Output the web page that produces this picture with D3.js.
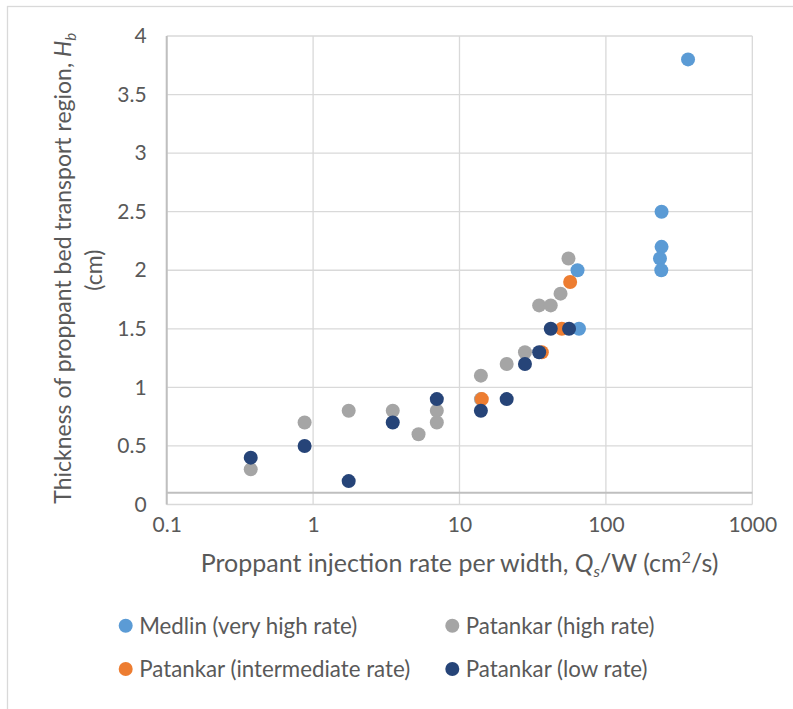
<!DOCTYPE html>
<html>
<head>
<meta charset="utf-8">
<script src="https://d3js.org/d3.v7.min.js"></script>
<style>
  body { margin: 0; background: #fff; }
  svg { display: block; font-family: Lato, "Open Sans", sans-serif; }
</style>
</head>
<body>
<svg id="chart" width="793" height="709"></svg>
<script>
// values
const seriesNames = ["Medlin (very high rate)", "Patankar (high rate)", "Patankar (intermediate rate)", "Patankar (low rate)"];
const seriesColors = ["#5B9BD5", "#A5A5A5", "#ED7D31", "#264478"];

const medlinX = [364, 240, 240, 234, 239, 64, 65.5];
const medlinY = [3.8, 2.5, 2.2, 2.1, 2.0, 2.0, 1.5];

const highX = [55.5, 49, 35, 42, 28, 21, 14, 14, 0.375, 0.875, 1.75, 3.5, 5.25, 7, 7];
const highY = [2.1, 1.8, 1.7, 1.7, 1.3, 1.2, 1.1, 0.9, 0.3, 0.7, 0.8, 0.8, 0.6, 0.8, 0.7];

const interX = [57, 50, 36.5, 14.2];
const interY = [1.9, 1.5, 1.3, 0.9];

const lowX = [42, 56, 35, 28, 21, 14, 0.375, 0.875, 1.75, 3.5, 7];
const lowY = [1.5, 1.5, 1.3, 1.2, 0.9, 0.8, 0.4, 0.5, 0.2, 0.7, 0.9];

const xTicks = [0.1, 1, 10, 100, 1000];
const xTickLabels = ["0.1", "1", "10", "100", "1000"];
const yTicks = [0, 0.5, 1, 1.5, 2, 2.5, 3, 3.5, 4];
const yTickLabels = ["0", "0.5", "1", "1.5", "2", "2.5", "3", "3.5", "4"];
const xAxisCrossesAt = 0.1;

const series = [
  {xs: medlinX, ys: medlinY},
  {xs: highX, ys: highY},
  {xs: interX, ys: interY},
  {xs: lowX, ys: lowY}
].map((s, i) => ({
  name: seriesNames[i],
  color: seriesColors[i],
  points: s.xs.map((x, j) => ({x: x, y: s.ys[j]}))
}));

let chart = d3.select("#chart");
const textColor = "#595959";
const tickSize = 21, legendSize = 22.3, xTitleSize = 25, yTitleSize = 23;

// outer chart border
chart.append("rect")
  .attr("x", 7.5).attr("y", 6.5)
  .attr("width", 820).attr("height", 740)
  .attr("fill", "none")
  .attr("stroke", "#D9D9D9")
  .attr("stroke-width", 1.3);

const xScale = d3.scaleLog().domain([0.1, 1000]).range([166.7, 752.3]);
const yScale = d3.scaleLinear().domain([0, 4]).range([504.5, 36]);

// gridlines
chart.append("g").selectAll("line")
  .data(yTicks).enter()
  .append("line")
    .attr("x1", xScale(0.1)).attr("x2", xScale(1000))
    .attr("y1", d => yScale(d)).attr("y2", d => yScale(d))
    .attr("stroke", "#D9D9D9").attr("stroke-width", 1.3);

chart.append("g").selectAll("line")
  .data(xTicks).enter()
  .append("line")
    .attr("x1", d => xScale(d)).attr("x2", d => xScale(d))
    .attr("y1", yScale(0)).attr("y2", yScale(4))
    .attr("stroke", "#D9D9D9").attr("stroke-width", 1.3);

// axis lines
chart.append("line")
  .attr("x1", xScale(0.1)).attr("x2", xScale(1000))
  .attr("y1", yScale(xAxisCrossesAt)).attr("y2", yScale(xAxisCrossesAt))
  .attr("stroke", "#BFBFBF").attr("stroke-width", 2);
chart.append("line")
  .attr("x1", xScale(0.1)).attr("x2", xScale(0.1))
  .attr("y1", yScale(0)).attr("y2", yScale(4))
  .attr("stroke", "#BFBFBF").attr("stroke-width", 2);

// tick labels
let yAxis = chart.append("g")
  .attr("transform", "translate(" + (xScale(0.1) - 20) + ",0)")
  .call(d3.axisLeft(yScale).tickValues(yTicks)
        .tickFormat((d, i) => yTickLabels[i]).tickSize(0).tickPadding(0));
let xAxis = chart.append("g")
  .attr("transform", "translate(0," + (yScale(0) + 13) + ")")
  .call(d3.axisBottom(xScale).tickValues(xTicks)
        .tickFormat((d, i) => xTickLabels[i]).tickSize(0).tickPadding(0));
[xAxis, yAxis].forEach(ax => {
  ax.select(".domain").remove();
  ax.selectAll("text")
    .attr("fill", textColor)
    .style("font-family", "Lato")
    .style("font-size", tickSize + "px");
});

// points
series.forEach(s => {
  chart.append("g").selectAll("circle")
    .data(s.points).enter()
    .append("circle")
      .attr("cx", d => xScale(d.x))
      .attr("cy", d => yScale(d.y))
      .attr("r", 7)
      .attr("fill", s.color);
});

// x axis title
let xTitle = chart.append("text")
  .attr("x", (xScale(0.1) + xScale(1000)) / 2)
  .attr("y", 572)
  .attr("text-anchor", "middle")
  .attr("fill", textColor)
  .style("font-size", xTitleSize + "px");
xTitle.append("tspan").text("Proppant injection rate per width, ");
xTitle.append("tspan").attr("font-style", "italic").text("Q");
xTitle.append("tspan").attr("font-style", "italic").attr("font-size", "0.65em").attr("dy", 5).text("s");
xTitle.append("tspan").attr("dy", -5).text("/W (cm");
xTitle.append("tspan").attr("font-size", "0.65em").attr("dy", -9).text("2");
xTitle.append("tspan").attr("dy", 9).text("/s)");

// y axis title
const yMid = (yScale(0) + yScale(4)) / 2;
let yTitle = chart.append("text")
  .attr("transform", "translate(71," + (yMid - 2) + ") rotate(-90)")
  .attr("text-anchor", "middle")
  .attr("fill", textColor)
  .style("font-size", yTitleSize + "px");
yTitle.append("tspan").text("Thickness of proppant bed transport region, ");
yTitle.append("tspan").attr("font-style", "italic").text("H");
yTitle.append("tspan").attr("font-style", "italic").attr("font-size", "0.65em").attr("dy", 5).text("b");

chart.append("text")
  .attr("transform", "translate(102," + yMid + ") rotate(-90)")
  .attr("text-anchor", "middle")
  .attr("fill", textColor)
  .style("font-size", yTitleSize + "px")
  .text("(cm)");

// legend
const legendX = [125.7, 452.3, 125.7, 452.3];
const legendY = [625.7, 625.7, 669, 669];
let legend = chart.append("g").selectAll("g")
  .data(series).enter()
  .append("g")
    .attr("transform", (d, i) => "translate(" + legendX[i] + "," + legendY[i] + ")");
legend.append("circle").attr("r", 7).attr("fill", d => d.color);
legend.append("text")
  .attr("x", 13.5)
  .attr("y", 8)
  .attr("fill", textColor)
  .style("font-size", legendSize + "px")
  .text(d => d.name);
</script>
</body>
</html>
